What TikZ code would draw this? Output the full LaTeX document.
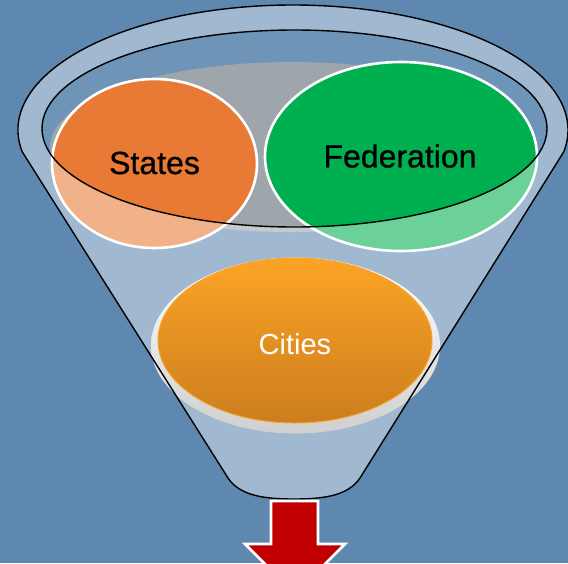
\documentclass[tikz,border=0pt]{standalone}
\usepackage{fontspec}
\setmainfont{Liberation Sans}
\newfontfamily\medfont[FakeBold=0.8]{Liberation Sans}
\definecolor{bgblue}{HTML}{5E88AF}
\definecolor{grayshade}{HTML}{A4A7AA}
\definecolor{statesor}{HTML}{E87A35}
\definecolor{fedgreen}{HTML}{00B050}
\definecolor{citytop}{HTML}{FBA426}
\definecolor{citybot}{HTML}{CC7D1E}
\definecolor{cityedge}{HTML}{F9A228}
\definecolor{rimgray}{HTML}{CFCFCF}
\definecolor{arrowred}{HTML}{C00000}
\tikzset{
  outline/.style={draw=black, line width=1.4pt},
  bubble/.style={draw=white, line width=2.6pt},
  label/.style={font=\medfont\fontsize{32}{36}\selectfont, text=black, inner sep=0pt},
}
\begin{document}
\begin{tikzpicture}[x=1pt,y=-1pt]
\useasboundingbox (0,0) rectangle (568,563);
\fill[bgblue] (0,0) rectangle (568,563);
\def\funnelpath{([shift={(293,130)}]170:275 and 125) arc[start angle=170,end angle=370,x radius=275,y radius=125] -- (360,478) .. controls (348,496) and (323,499) .. (294,499) .. controls (265,499) and (240,496) .. (228,478) -- cycle}
\def\innerellipse{(294.5,128.5) ellipse[x radius=252.5, y radius=98.5]}
% back of the funnel opening
\fill[white, fill opacity=0.1] \innerellipse;
% gray surface
\fill[grayshade, fill opacity=0.9] (292,147) ellipse[x radius=242, y radius=85];
% content bubbles
\filldraw[fill=statesor, bubble] (154.5,163.5) ellipse[x radius=102.5, y radius=84.5];
\filldraw[fill=fedgreen, bubble] (401,156.5) ellipse[x radius=136, y radius=94.5];
% front glass
\fill[white, fill opacity=0.42, even odd rule] \funnelpath \innerellipse;
% cities rim
\shade[top color=white, bottom color=rimgray] (295.5,345.5) ellipse[x radius=144.5, y radius=88];
% outlines
\draw[outline, line join=round] \funnelpath;
\draw[outline] \innerellipse;
% cities
\shade[top color=citytop, bottom color=citybot, draw=cityedge, line width=1pt] (295,340.5) ellipse[x radius=137, y radius=82.5];
\node[label] (states) at (154.5,163) {States};
\node[label] (federation) at (400,156) {Federation};
\node[label, text=white, font=\fontsize{29}{33}\selectfont] (cities) at (295,344) {Cities};
% arrow
\filldraw[fill=arrowred, draw=white, line width=2.6pt, line join=miter]
  (271,501) -- (318,501) -- (318,544) -- (345,544) -- (295,594) -- (245,544) -- (271,544) -- cycle;
\end{tikzpicture}
\end{document}
